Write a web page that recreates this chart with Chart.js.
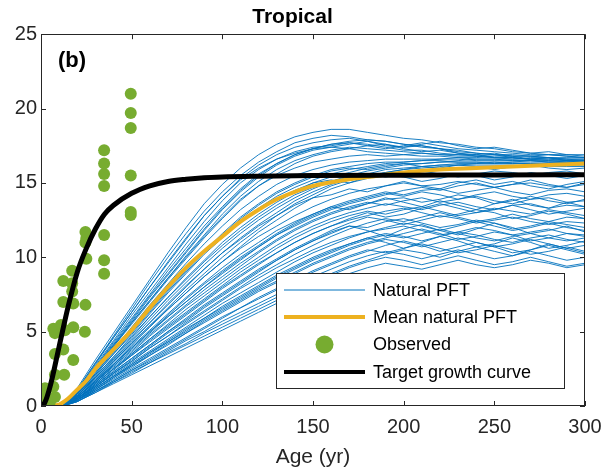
<!DOCTYPE html>
<html>
<head>
<meta charset="utf-8">
<script src="https://cdn.jsdelivr.net/npm/chart.js@4.4.1/dist/chart.umd.min.js"></script>
<style>
html,body{margin:0;padding:0;background:#fff;}
canvas{display:block;}
</style>
</head>
<body>
<canvas id="c" width="605" height="472"></canvas>
<script>
// ---------- data ----------
const TITLE = 'Tropical';
const PANEL = '(b)';
const X_LABEL = 'Age (yr)';
const X_TICKS = [0, 50, 100, 150, 200, 250, 300];
const Y_TICKS = [0, 5, 10, 15, 20, 25];
const LEGEND_LABELS = ['Natural PFT', 'Mean natural PFT', 'Observed', 'Target growth curve'];

// ages at which the natural PFT ensemble members were read
const PFT_AGES = [0,12,20,30,40,50,60,70,80,90,100,110,120,130,140,150,160,170,180,190,200,210,220,230,240,250,260,270,280,290,300];
const NATURAL_PFT = [
 [0,0,1.2,3.1,4.9,6.7,8.5,10.3,12.0,13.6,14.9,16.0,16.9,17.6,18.1,18.4,18.6,18.6,18.4,18.2,18.0,17.9,17.7,17.6,17.4,17.3,17.1,17.0,16.9,16.8,16.7],
 [0,0,1.1,2.9,4.7,6.5,8.3,10.0,11.6,13.1,14.4,15.5,16.4,17.1,17.7,18.0,18.2,18.1,17.9,17.8,17.6,17.5,17.3,17.2,17.0,16.9,16.8,16.8,16.7,16.6,16.6],
 [0,0,1.0,2.8,4.6,6.3,8.0,9.6,11.2,12.8,14.1,15.3,16.2,16.9,17.4,17.7,17.9,18.0,17.8,17.5,17.4,17.5,17.3,17.0,16.9,17.0,16.8,16.6,16.7,16.5,16.4],
 [0,0,1.0,2.7,4.4,6.1,7.7,9.3,10.9,12.4,13.8,15.0,15.9,16.6,17.1,17.4,17.5,17.7,17.6,17.4,17.2,17.2,17.0,16.9,16.9,16.7,16.6,16.6,16.5,16.4,16.5],
 [0,0,0.9,2.6,4.3,5.9,7.5,9.1,10.6,12.1,13.4,14.6,15.6,16.3,16.9,17.3,17.6,17.8,17.9,17.8,17.6,17.4,17.3,17.1,17.0,16.9,16.9,16.8,16.7,16.6,16.6],
 [0,0,0.9,2.5,4.1,5.7,7.3,8.8,10.3,11.8,13.2,14.4,15.4,16.2,16.8,17.2,17.4,17.3,17.1,17.0,16.9,16.8,16.8,16.7,16.6,16.6,16.5,16.5,16.4,16.4,16.3],
 [0,0,0.8,2.4,4.0,5.6,7.1,8.6,10.1,11.5,12.9,14.1,15.1,15.9,16.5,16.9,17.2,17.4,17.3,17.2,17.1,17.0,16.9,16.9,16.8,16.7,16.7,16.6,16.6,16.5,16.5],
 [0,0,0.9,2.4,4.0,5.5,7.0,8.5,9.9,11.3,12.6,13.8,14.8,15.6,16.3,16.8,17.1,17.3,17.5,17.6,17.4,17.6,17.8,17.5,17.3,17.4,17.2,17.0,17.1,16.9,16.8],
 [0,0,1.0,2.6,4.2,5.8,7.4,8.9,10.4,11.9,13.3,14.5,15.5,16.3,16.9,17.3,17.6,17.7,17.5,17.3,17.5,17.7,17.5,17.3,17.2,17.1,17.0,16.9,16.9,16.8,16.7],
 [0,0,0.9,2.3,3.8,5.3,6.8,8.2,9.6,10.9,12.1,13.2,14.1,14.9,15.5,15.9,16.2,16.4,16.5,16.6,16.6,16.6,16.6,16.6,16.5,16.5,16.5,16.5,16.4,16.4,16.4],
 [0,0,0.8,2.2,3.6,5.0,6.4,7.8,9.1,10.4,11.6,12.7,13.6,14.4,15.0,15.5,15.9,16.1,16.3,16.4,16.4,16.5,16.5,16.4,16.4,16.4,16.3,16.3,16.3,16.3,16.3],
 [0,0,0.8,2.1,3.5,4.8,6.2,7.6,8.9,10.2,11.3,12.4,13.3,14.1,14.7,15.2,15.6,15.9,16.1,16.3,16.4,16.5,16.6,16.7,16.7,16.8,16.8,16.8,16.9,16.9,16.9],
 [0,0,0.7,2.0,3.3,4.6,6.0,7.3,8.6,9.8,11.0,12.0,12.9,13.7,14.4,15.0,15.4,15.7,16.0,16.2,16.3,16.3,16.4,16.4,16.4,16.3,16.3,16.3,16.2,16.2,16.2],
 [0,0,0.7,1.9,3.2,4.5,5.8,7.1,8.3,9.5,10.6,11.6,12.5,13.3,14.0,14.6,15.1,15.5,15.8,16.0,16.2,16.3,16.4,16.5,16.6,16.6,16.6,16.7,16.7,16.7,16.7],
 [0,0,0.7,1.9,3.1,4.3,5.6,6.8,8.0,9.2,10.3,11.3,12.2,13.0,13.8,14.4,14.9,15.3,15.6,15.9,16.0,16.1,16.2,16.2,16.2,16.2,16.2,16.1,16.1,16.1,16.1],
 [0,0,0.6,1.8,3.0,4.2,5.4,6.6,7.8,8.9,10.0,11.0,11.9,12.8,13.6,14.2,14.8,15.2,15.5,15.7,15.9,16.0,16.1,16.2,16.3,16.4,16.4,16.5,16.5,16.5,16.5],
 [0,0,0.6,1.7,2.9,4.1,5.3,6.5,7.6,8.7,9.7,10.7,11.7,12.5,13.3,14.0,14.6,15.0,15.4,15.7,15.9,16.1,16.2,16.3,16.3,16.3,16.4,16.4,16.4,16.4,16.4],
 [0,0,0.7,1.8,3.0,4.2,5.4,6.5,7.6,8.7,9.7,10.6,11.4,12.1,12.8,13.4,13.9,14.3,14.6,14.8,15.0,14.8,14.9,15.1,14.9,14.7,14.9,15.0,14.8,14.7,14.9],
 [0,0,0.6,1.6,2.8,3.9,5.0,6.1,7.2,8.2,9.1,10.0,10.8,11.6,12.3,12.9,13.4,13.8,14.1,14.4,14.2,14.5,14.6,14.3,14.5,14.7,14.4,14.2,14.5,14.6,14.4],
 [0,0,0.6,1.6,2.7,3.7,4.8,5.8,6.8,7.8,8.7,9.6,10.4,11.2,11.9,12.5,13.0,13.4,13.7,13.5,13.8,14.0,13.7,13.9,14.1,13.8,13.6,13.9,14.0,13.7,13.8],
 [0,0,0.5,1.5,2.5,3.5,4.5,5.5,6.5,7.4,8.3,9.2,10.0,10.8,11.5,12.1,12.6,13.0,13.3,13.6,13.4,13.2,13.5,13.7,13.4,13.2,13.5,13.6,13.3,13.5,13.4],
 [0,0,0.5,1.5,2.5,3.5,4.5,5.4,6.3,7.2,8.1,9.0,9.8,10.6,11.3,11.9,12.4,12.8,13.1,12.9,13.2,13.4,13.1,12.8,13.0,13.3,13.1,12.9,13.2,13.0,12.8],
 [0,0,0.5,1.4,2.4,3.4,4.3,5.2,6.1,7.0,7.9,8.7,9.5,10.3,11.0,11.6,12.1,12.5,12.8,13.1,13.3,13.0,12.7,12.9,13.2,13.0,12.6,12.8,13.1,12.9,12.6],
 [0,0,0.5,1.4,2.3,3.2,4.1,5.0,5.9,6.8,7.6,8.4,9.2,9.9,10.6,11.2,11.8,12.3,12.7,12.5,12.2,12.5,12.8,12.6,12.3,12.5,12.7,12.4,12.2,12.4,12.3],
 [0,0,0.4,1.3,2.2,3.1,4.0,4.9,5.7,6.6,7.4,8.2,9.0,9.8,10.5,11.1,11.7,12.1,12.0,12.4,12.6,12.3,12.0,12.2,12.5,12.3,11.9,12.1,12.4,12.2,12.0],
 [0,0,0.6,1.7,2.8,3.9,5.0,6.0,7.0,8.0,8.9,9.8,10.7,11.5,12.2,12.8,13.3,13.7,14.0,14.3,14.1,14.4,14.2,13.9,14.2,14.4,14.1,13.9,14.2,14.3,14.1],
 [0,0,0.6,1.6,2.6,3.6,4.7,5.7,6.7,7.6,8.5,9.4,10.3,11.1,11.8,12.4,12.9,13.3,13.6,13.9,14.0,13.7,13.9,14.2,14.0,13.6,13.8,14.1,13.8,13.6,13.9],
 [0,0,0.5,1.3,2.2,3.0,3.9,4.7,5.5,6.3,7.1,7.9,8.6,9.3,9.9,10.5,11.0,11.4,11.7,11.9,12.1,11.8,11.5,11.7,12.0,11.8,11.5,11.7,11.9,11.6,11.5],
 [0,0,0.4,1.2,2.0,2.8,3.6,4.4,5.2,5.9,6.7,7.4,8.1,8.8,9.4,10.0,10.5,10.9,11.3,11.6,11.4,11.1,11.4,11.7,11.5,11.2,11.0,11.3,11.5,11.2,11.0],
 [0,0,0.4,1.1,1.9,2.6,3.4,4.1,4.9,5.6,6.3,7.0,7.7,8.3,8.9,9.5,10.0,10.5,10.9,11.2,11.0,10.7,11.0,11.3,11.0,10.7,10.9,11.2,10.9,10.6,10.8],
 [0,0,0.4,1.1,1.8,2.5,3.2,3.9,4.6,5.3,6.0,6.6,7.3,7.9,8.5,9.1,9.6,10.1,10.5,10.3,10.6,10.9,10.6,10.3,10.5,10.8,10.5,10.2,10.4,10.7,10.4],
 [0,0,0.4,1.0,1.7,2.4,3.0,3.7,4.4,5.0,5.7,6.3,6.9,7.5,8.1,8.7,9.2,9.7,10.1,10.4,10.2,9.9,10.2,10.5,10.2,9.9,10.1,10.4,10.1,9.8,10.0],
 [0,0,0.3,1.0,1.6,2.2,2.9,3.5,4.1,4.7,5.3,5.9,6.5,7.1,7.7,8.3,8.8,9.3,9.7,10.0,9.8,9.5,9.8,10.1,9.8,9.5,9.7,10.0,9.7,9.4,9.6],
 [0,0,0.3,0.9,1.5,2.1,2.7,3.3,3.9,4.5,5.1,5.7,6.3,6.9,7.5,8.0,8.5,8.9,9.3,9.6,9.4,9.2,9.5,9.8,9.5,9.3,9.5,9.8,9.6,9.3,9.5],
 [0,0,0.5,1.3,2.1,2.9,3.7,4.5,5.3,6.1,6.9,7.6,8.3,9.0,9.7,10.3,10.8,11.3,11.7,12.0,12.3,12.1,11.8,12.1,12.4,12.1,11.8,12.0,12.3,12.0,11.8],
 [0,0,0.5,1.3,2.2,3.0,3.9,4.7,5.6,6.4,7.2,8.0,8.8,9.5,10.2,10.8,11.4,11.9,12.3,12.6,12.4,12.7,13.0,12.7,12.4,12.6,12.9,12.6,12.4,12.7,12.6],
 [0,0,0.4,1.2,2.0,2.7,3.5,4.3,5.0,5.8,6.5,7.2,7.9,8.6,9.2,9.8,10.3,10.8,11.2,11.5,11.3,11.6,11.9,11.6,11.3,11.1,11.4,11.6,11.3,11.1,11.3],
 [0,0,0.8,2.2,3.7,5.1,6.5,7.9,9.2,10.4,11.5,12.4,13.2,13.9,14.5,15.0,15.2,15.0,15.3,15.6,15.4,15.1,15.3,15.6,15.5,15.2,15.4,15.7,15.5,15.3,15.5],
 [0,0,0.7,1.9,3.1,4.4,5.6,6.9,8.1,9.2,10.3,11.2,12.1,12.8,13.5,14.0,14.2,14.6,14.4,14.8,15.1,14.8,14.6,15.0,15.2,14.9,15.1,14.8,14.6,14.9,15.1],
 [0,0,0.6,1.7,2.8,4.0,5.1,6.2,7.3,8.3,9.3,10.2,11.0,11.8,12.4,12.9,13.4,13.2,13.6,14.0,13.7,13.4,13.8,13.5,13.2,13.6,13.9,13.5,13.3,13.7,13.4],
 [0,0,0.5,1.4,2.3,3.2,4.1,5.0,5.8,6.7,7.5,8.3,9.1,9.8,10.5,11.1,11.6,12.1,11.8,11.4,11.9,12.2,11.8,11.5,11.9,12.3,12.0,11.6,11.8,12.1,11.7],
 [0,0,0.4,1.2,2.0,2.8,3.6,4.3,5.1,5.9,6.6,7.3,8.0,8.7,9.3,9.9,10.4,10.9,11.3,11.0,10.6,11.0,11.4,11.1,10.7,10.9,11.3,11.0,10.6,10.8,11.1],
 [0,0,0.3,0.9,1.6,2.3,2.9,3.6,4.2,4.9,5.5,6.1,6.7,7.3,7.9,8.4,8.9,9.4,9.8,10.2,10.5,10.3,10.0,10.4,10.7,10.4,10.1,10.5,10.8,10.5,10.2],
 [0,0,0.3,1.0,1.7,2.4,3.1,3.8,4.5,5.2,5.9,6.6,7.2,7.8,8.4,9.0,9.5,10.0,10.4,10.8,11.1,10.8,10.4,10.7,11.0,10.7,10.3,10.5,10.9,10.6,10.3],
 [0,0,0.9,2.5,4.1,5.6,7.1,8.6,10.0,11.4,12.7,13.9,14.8,15.5,16.0,16.4,16.6,16.8,16.9,16.8,16.9,17.0,16.9,16.8,16.8,16.7,16.7,16.6,16.6,16.6,16.5],
 [0,0,1.1,2.9,4.6,6.3,8.0,9.7,11.3,12.8,14.1,15.2,16.0,16.6,17.0,17.3,17.4,17.6,17.8,17.6,17.3,17.1,17.2,17.0,16.8,16.9,16.7,16.6,16.7,16.5,16.5],
 [0,0,0.6,1.6,2.7,3.8,4.9,6.0,7.0,8.0,9.0,9.9,10.7,11.5,12.1,12.7,13.2,13.6,13.9,14.2,14.5,14.7,14.5,14.8,15.0,14.7,14.9,15.2,14.9,14.7,15.0],
 [0,0,0.5,1.5,2.5,3.4,4.4,5.3,6.2,7.1,8.0,8.8,9.6,10.3,11.0,11.6,12.1,12.6,13.0,12.7,12.9,13.3,13.6,13.3,13.0,13.2,13.5,13.2,12.9,13.1,13.3],
 [0,0,0.4,1.1,1.9,2.7,3.4,4.2,4.9,5.7,6.4,7.1,7.8,8.4,9.0,9.6,10.1,10.6,11.0,11.3,11.6,11.9,11.6,11.2,11.4,11.7,11.5,11.1,11.3,11.6,11.4],
 [0,0,0.8,2.1,3.5,4.9,6.3,7.7,9.0,10.3,11.5,12.6,13.5,14.3,14.9,15.4,15.8,16.0,15.9,16.1,16.3,16.1,16.0,16.2,16.1,15.9,16.1,16.2,16.0,15.9,16.0],
 [0,0,0.7,2.0,3.3,4.7,6.0,7.3,8.5,9.7,10.8,11.8,12.7,13.5,14.2,14.7,15.1,15.4,15.6,15.4,15.6,15.8,15.6,15.4,15.6,15.8,15.7,15.5,15.7,15.8,15.6]
];

const MEAN_AGES = [0,5,10,15,20,25,30,40,50,60,70,80,90,100,110,120,130,140,150,160,170,180,200,220,240,260,280,300];
const MEAN_PFT  = [0,0.02,0.1,0.5,1.1,1.7,2.5,3.8,5.1,6.6,8.0,9.3,10.4,11.4,12.4,13.2,13.9,14.4,14.8,15.05,15.25,15.4,15.7,15.9,16.0,16.1,16.2,16.3];

const OBS_AGE = [1,2.2,2.2,5,7.7,6.8,7.7,12.8,7.7,12.3,17.8,7.7,6.8,11,13.2,17.8,24.2,12.3,17.8,24.5,17.2,12.3,17.2,17.2,25,24.5,25,24.5,34.8,34.8,34.8,34.8,34.8,34.8,34.8,49.5,49.5,49.5,49.5,49.5,49.5];
const OBS_VAL = [0.3,0.6,1.2,0.3,0.6,1.3,2.1,2.1,3.5,3.8,3.1,4.9,5.2,5.45,5.1,5.3,5.0,7.0,6.9,6.8,7.7,8.4,8.25,9.1,9.9,11.0,11.3,11.7,8.9,9.8,11.5,14.8,15.6,16.3,17.2,12.85,13.05,15.5,18.7,19.7,21.0];

const TARGET_AGES = [0,2,5,10,15,20,25,30,35,40,50,60,70,80,90,100,120,150,200,250,300];
const TARGET_VAL  = [0,0.2,1.3,4.0,6.7,9.0,10.6,11.9,12.9,13.5,14.3,14.8,15.1,15.25,15.35,15.4,15.45,15.5,15.52,15.53,15.55];

// ---------- styling ----------
const FONT = "'Liberation Sans', Arial, Helvetica, sans-serif";
const AX = '#262626';
const C_BLUE = '#0072BD', C_ORANGE = '#EDB120', C_GREEN = '#77AC30', C_BLACK = '#000000';

const pts = (xs, ys) => xs.map((x, i) => ({x: x, y: ys[i]}));

const datasets = [];
datasets.push({label: LEGEND_LABELS[3], data: pts(TARGET_AGES, TARGET_VAL), borderColor: C_BLACK, borderWidth: 5,
  pointRadius: 0, cubicInterpolationMode: 'monotone', order: 0, fill: false});
datasets.push({label: LEGEND_LABELS[2], type: 'scatter', data: pts(OBS_AGE, OBS_VAL), showLine: false,
  pointRadius: 6, pointBackgroundColor: C_GREEN, pointBorderWidth: 0, borderColor: C_GREEN, order: 1});
datasets.push({label: LEGEND_LABELS[1], data: pts(MEAN_AGES, MEAN_PFT), borderColor: C_ORANGE, borderWidth: 4,
  pointRadius: 0, cubicInterpolationMode: 'monotone', order: 2, fill: false});
NATURAL_PFT.forEach((row, k) => {
  datasets.push({label: LEGEND_LABELS[0] + ' ' + (k + 1), data: pts(PFT_AGES, row), borderColor: C_BLUE, borderWidth: 0.9,
    pointRadius: 0, tension: 0, order: 3, fill: false});
});

const framePlugin = {
  id: 'frame',
  afterDatasetsDraw(chart) {
    const {ctx, chartArea: a, scales: {x, y}} = chart;
    ctx.save();
    ctx.strokeStyle = AX;
    ctx.lineWidth = 1;
    ctx.strokeRect(Math.round(a.left) + 0.5, Math.round(a.top) + 0.5, Math.round(a.width) - 1, Math.round(a.height) - 1);
    const tl = 5;
    ctx.beginPath();
    X_TICKS.forEach(v => {
      const px = Math.round(x.getPixelForValue(v)) + 0.5;
      ctx.moveTo(px, a.bottom); ctx.lineTo(px, a.bottom - tl);
      ctx.moveTo(px, a.top); ctx.lineTo(px, a.top + tl);
    });
    Y_TICKS.forEach(v => {
      const py = Math.round(y.getPixelForValue(v)) + 0.5;
      ctx.moveTo(a.left, py); ctx.lineTo(a.left + tl, py);
      ctx.moveTo(a.right, py); ctx.lineTo(a.right - tl, py);
    });
    ctx.stroke();
    ctx.fillStyle = '#000';
    ctx.font = 'bold 22px ' + FONT;
    ctx.textAlign = 'left';
    ctx.textBaseline = 'middle';
    ctx.fillText(PANEL, a.left + 17, a.top + 27);
    ctx.restore();
  }
};

const legendPlugin = {
  id: 'boxLegend',
  afterDraw(chart) {
    const {ctx, chartArea: a} = chart;
    const w = 288, h = 115;
    const L = Math.round(a.right - 21 - w), T = Math.round(a.bottom - 18 - h);
    ctx.save();
    ctx.fillStyle = '#fff';
    ctx.fillRect(L, T, w, h);
    ctx.strokeStyle = AX;
    ctx.lineWidth = 1;
    ctx.strokeRect(L + 0.5, T + 0.5, w, h);
    const rowY = [T + 17, T + 44, T + 71.5, T + 99];
    const x0 = L + 8, x1 = L + 89, tx = L + 97;
    ctx.strokeStyle = C_BLUE; ctx.lineWidth = 1;
    ctx.beginPath(); ctx.moveTo(x0, rowY[0]); ctx.lineTo(x1, rowY[0]); ctx.stroke();
    ctx.strokeStyle = C_ORANGE; ctx.lineWidth = 4;
    ctx.beginPath(); ctx.moveTo(x0, rowY[1]); ctx.lineTo(x1, rowY[1]); ctx.stroke();
    ctx.fillStyle = C_GREEN;
    ctx.beginPath(); ctx.arc((x0 + x1) / 2, rowY[2], 9, 0, Math.PI * 2); ctx.fill();
    ctx.strokeStyle = C_BLACK; ctx.lineWidth = 4;
    ctx.beginPath(); ctx.moveTo(x0, rowY[3]); ctx.lineTo(x1, rowY[3]); ctx.stroke();
    ctx.fillStyle = '#000';
    ctx.font = '18px ' + FONT;
    ctx.textAlign = 'left';
    ctx.textBaseline = 'middle';
    LEGEND_LABELS.forEach((t, i) => ctx.fillText(t, tx, rowY[i] + 1));
    ctx.restore();
  }
};

new Chart(document.getElementById('c'), {
  type: 'line',
  data: {datasets: datasets},
  options: {
    responsive: false,
    animation: false,
    devicePixelRatio: 1,
    layout: {padding: {left: 0, right: 20, top: 0, bottom: 0}},
    plugins: {
      legend: {display: false},
      tooltip: {enabled: false},
      title: {display: true, text: TITLE, color: '#000', font: {family: FONT, size: 21, weight: 'bold'}, padding: {top: 5, bottom: 4}}
    },
    scales: {
      x: {
        type: 'linear', min: 0, max: 300,
        afterBuildTicks: s => { s.ticks = X_TICKS.map(v => ({value: v})); },
        ticks: {color: AX, font: {family: FONT, size: 20}, padding: 9, maxRotation: 0, autoSkip: false},
        grid: {display: false, drawTicks: false},
        border: {display: false},
        title: {display: true, text: X_LABEL, color: AX, font: {family: FONT, size: 21}, padding: {top: 0, bottom: 2}},
        afterFit: s => { s.height = 66; s.paddingLeft = 0; s.paddingRight = 0; }
      },
      y: {
        type: 'linear', min: 0, max: 25,
        afterBuildTicks: s => { s.ticks = Y_TICKS.map(v => ({value: v})); },
        ticks: {color: AX, font: {family: FONT, size: 20}, padding: 4, autoSkip: false},
        grid: {display: false, drawTicks: false},
        border: {display: false},
        afterFit: s => { s.width = 41; s.paddingTop = 0; s.paddingBottom = 0; }
      }
    }
  },
  plugins: [framePlugin, legendPlugin]
});
</script>
</body>
</html>
